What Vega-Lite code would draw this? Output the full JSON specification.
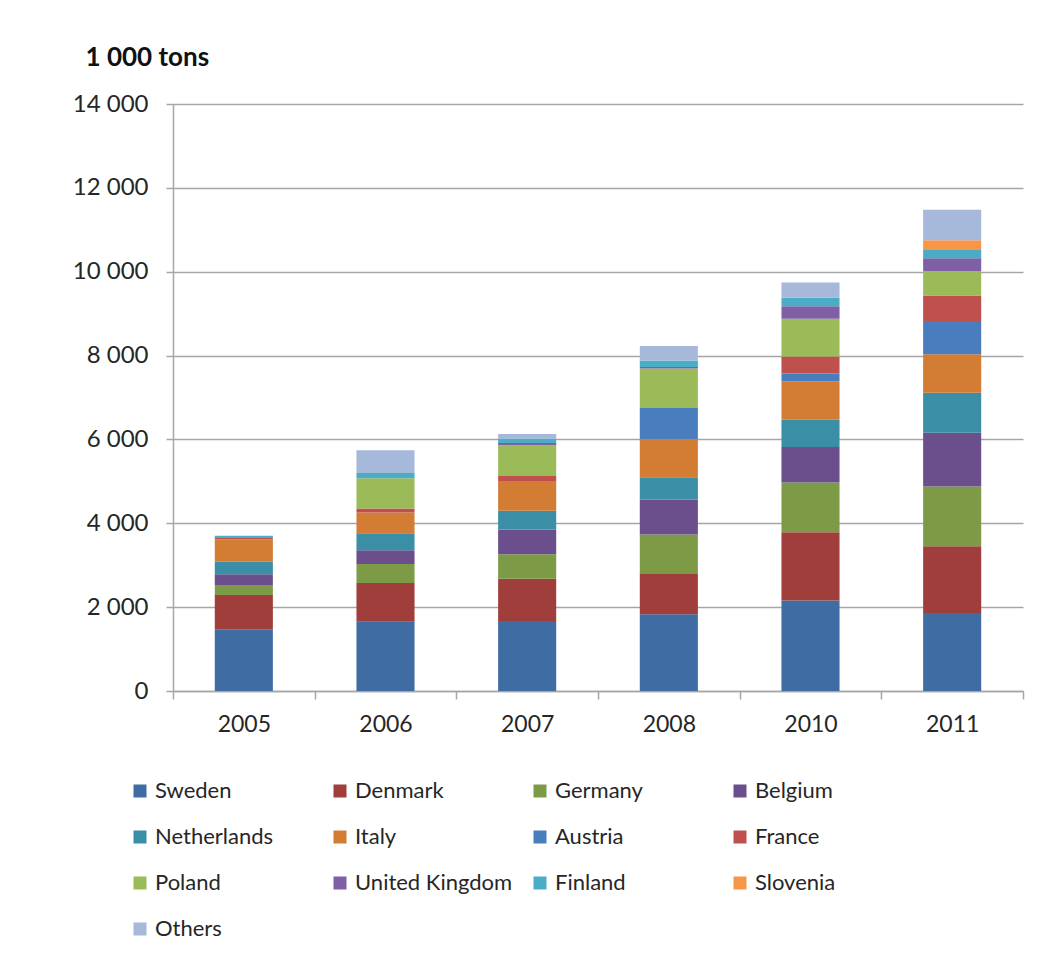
{
  "$schema": "https://vega.github.io/schema/vega-lite/v6.json",
  "width": 850,
  "height": 587,
  "autosize": "none",
  "padding": {"left": 173, "top": 104, "right": 17, "bottom": 265},
  "background": "white",
  "config": {"font": "Lato", "view": {"stroke": null}},
  "data": {
    "values": [
      {"year": "2005", "country": "Sweden", "ord": 1, "value": 1470},
      {"year": "2005", "country": "Denmark", "ord": 2, "value": 820},
      {"year": "2005", "country": "Germany", "ord": 3, "value": 240},
      {"year": "2005", "country": "Belgium", "ord": 4, "value": 255},
      {"year": "2005", "country": "Netherlands", "ord": 5, "value": 300},
      {"year": "2005", "country": "Italy", "ord": 6, "value": 530},
      {"year": "2005", "country": "France", "ord": 8, "value": 50},
      {"year": "2005", "country": "Finland", "ord": 11, "value": 40},
      {"year": "2006", "country": "Sweden", "ord": 1, "value": 1650},
      {"year": "2006", "country": "Denmark", "ord": 2, "value": 925},
      {"year": "2006", "country": "Germany", "ord": 3, "value": 455},
      {"year": "2006", "country": "Belgium", "ord": 4, "value": 325},
      {"year": "2006", "country": "Netherlands", "ord": 5, "value": 405},
      {"year": "2006", "country": "Italy", "ord": 6, "value": 500},
      {"year": "2006", "country": "France", "ord": 8, "value": 90},
      {"year": "2006", "country": "Poland", "ord": 9, "value": 725},
      {"year": "2006", "country": "Finland", "ord": 11, "value": 125},
      {"year": "2006", "country": "Others", "ord": 13, "value": 540},
      {"year": "2007", "country": "Sweden", "ord": 1, "value": 1670},
      {"year": "2007", "country": "Denmark", "ord": 2, "value": 1010},
      {"year": "2007", "country": "Germany", "ord": 3, "value": 580},
      {"year": "2007", "country": "Belgium", "ord": 4, "value": 590},
      {"year": "2007", "country": "Netherlands", "ord": 5, "value": 450},
      {"year": "2007", "country": "Italy", "ord": 6, "value": 710},
      {"year": "2007", "country": "France", "ord": 8, "value": 120},
      {"year": "2007", "country": "Poland", "ord": 9, "value": 730},
      {"year": "2007", "country": "United Kingdom", "ord": 10, "value": 55},
      {"year": "2007", "country": "Finland", "ord": 11, "value": 105},
      {"year": "2007", "country": "Others", "ord": 13, "value": 110},
      {"year": "2008", "country": "Sweden", "ord": 1, "value": 1830},
      {"year": "2008", "country": "Denmark", "ord": 2, "value": 980},
      {"year": "2008", "country": "Germany", "ord": 3, "value": 920},
      {"year": "2008", "country": "Belgium", "ord": 4, "value": 840},
      {"year": "2008", "country": "Netherlands", "ord": 5, "value": 525},
      {"year": "2008", "country": "Italy", "ord": 6, "value": 915},
      {"year": "2008", "country": "Austria", "ord": 7, "value": 740},
      {"year": "2008", "country": "Poland", "ord": 9, "value": 940},
      {"year": "2008", "country": "United Kingdom", "ord": 10, "value": 40},
      {"year": "2008", "country": "Finland", "ord": 11, "value": 150},
      {"year": "2008", "country": "Others", "ord": 13, "value": 350},
      {"year": "2010", "country": "Sweden", "ord": 1, "value": 2160},
      {"year": "2010", "country": "Denmark", "ord": 2, "value": 1625},
      {"year": "2010", "country": "Germany", "ord": 3, "value": 1190},
      {"year": "2010", "country": "Belgium", "ord": 4, "value": 845},
      {"year": "2010", "country": "Netherlands", "ord": 5, "value": 650},
      {"year": "2010", "country": "Italy", "ord": 6, "value": 915},
      {"year": "2010", "country": "Austria", "ord": 7, "value": 185},
      {"year": "2010", "country": "France", "ord": 8, "value": 410},
      {"year": "2010", "country": "Poland", "ord": 9, "value": 900},
      {"year": "2010", "country": "United Kingdom", "ord": 10, "value": 295},
      {"year": "2010", "country": "Finland", "ord": 11, "value": 205},
      {"year": "2010", "country": "Others", "ord": 13, "value": 360},
      {"year": "2011", "country": "Sweden", "ord": 1, "value": 1860},
      {"year": "2011", "country": "Denmark", "ord": 2, "value": 1590},
      {"year": "2011", "country": "Germany", "ord": 3, "value": 1430},
      {"year": "2011", "country": "Belgium", "ord": 4, "value": 1280},
      {"year": "2011", "country": "Netherlands", "ord": 5, "value": 955},
      {"year": "2011", "country": "Italy", "ord": 6, "value": 915},
      {"year": "2011", "country": "Austria", "ord": 7, "value": 795},
      {"year": "2011", "country": "France", "ord": 8, "value": 610},
      {"year": "2011", "country": "Poland", "ord": 9, "value": 580},
      {"year": "2011", "country": "United Kingdom", "ord": 10, "value": 305},
      {"year": "2011", "country": "Finland", "ord": 11, "value": 215},
      {"year": "2011", "country": "Slovenia", "ord": 12, "value": 215},
      {"year": "2011", "country": "Others", "ord": 13, "value": 730}
    ]
  },
  "mark": {"type": "bar", "width": {"band": 0.41}},
  "encoding": {
    "x": {
      "field": "year",
      "type": "ordinal",
      "scale": {"paddingInner": 0, "paddingOuter": 0},
      "axis": {
        "title": null,
        "labelAngle": 0,
        "tickBand": "extent",
        "grid": false,
        "domainColor": "#A6A6A6",
        "domainWidth": 1.5,
        "tickColor": "#A6A6A6",
        "tickWidth": 1.5,
        "tickSize": 8,
        "labelFont": "Lato",
        "labelFontSize": 23,
        "labelColor": "#262626",
        "labelPadding": 14
      }
    },
    "y": {
      "field": "value",
      "type": "quantitative",
      "stack": "zero",
      "scale": {"domain": [0, 14000], "nice": false},
      "axis": {
        "values": [0, 2000, 4000, 6000, 8000, 10000, 12000, 14000],
        "labelExpr": "replace(format(datum.value, ','), ',', ' ')",
        "grid": true,
        "gridColor": "#A6A6A6",
        "gridWidth": 1.5,
        "domainColor": "#A6A6A6",
        "domainWidth": 1.5,
        "tickColor": "#A6A6A6",
        "tickWidth": 1.5,
        "tickSize": 7,
        "labelFont": "Lato",
        "labelFontSize": 24,
        "labelColor": "#262626",
        "labelPadding": 18,
        "title": "1 000 tons",
        "titleAngle": 0,
        "titleAlign": "left",
        "titleBaseline": "alphabetic",
        "titleX": -88,
        "titleY": -39,
        "titleFont": "Lato",
        "titleFontSize": 26,
        "titleFontWeight": "bold",
        "titleColor": "#111111"
      }
    },
    "color": {
      "field": "country",
      "type": "nominal",
      "scale": {
        "domain": ["Sweden", "Denmark", "Germany", "Belgium", "Netherlands", "Italy", "Austria", "France", "Poland", "United Kingdom", "Finland", "Slovenia", "Others"],
        "range": ["#3F6CA3", "#A03E3B", "#7D9B47", "#6A4F8C", "#3A8EA6", "#D27C34", "#4A7DBD", "#C0504D", "#9BBB59", "#7F5FA5", "#4BACC6", "#F79646", "#A7B9DA"]
      },
      "legend": {
        "title": null,
        "orient": "none",
        "direction": "horizontal",
        "legendX": -44,
        "legendY": 676,
        "columns": 4,
        "gridAlign": "all",
        "columnPadding": 16,
        "rowPadding": 24,
        "padding": 0,
        "symbolType": "square",
        "symbolSize": 169,
        "symbolStrokeWidth": 0,
        "labelFont": "Lato",
        "labelFontSize": 22,
        "labelColor": "#262626",
        "labelOffset": 4,
        "labelLimit": 300
      }
    },
    "order": {"field": "ord", "type": "quantitative"}
  }
}
